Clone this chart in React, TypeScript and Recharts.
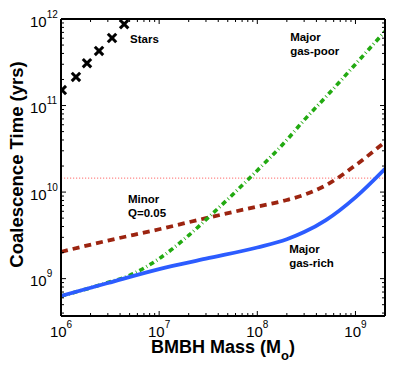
import React from "react";
import {
  ComposedChart,
  Line,
  Scatter,
  XAxis,
  YAxis,
  ReferenceLine,
  ReferenceDot,
} from "recharts";

const FONT = "'Liberation Sans', Arial, Helvetica, sans-serif";

// ---- data (mass in solar masses, time in years) ----
const gasRichMass = [1e6, 3e6, 1e7, 3e7, 1e8, 2e8, 3e8, 5e8, 1e9, 2e9];
const gasRichTime = [6.3e8, 8.9e8, 1.29e9, 1.7e9, 2.29e9, 2.85e9, 3.45e9, 4.75e9, 8.7e9, 1.86e10];

const gasPoorMass = [1e6, 3e6, 5e6, 1e7, 2e7, 3e7, 1e8, 2e8, 3e8, 5e8, 1e9, 2e9];
const gasPoorTime = [6.3e8, 9.0e8, 1.09e9, 1.7e9, 3.16e9, 4.8e9, 1.78e10, 4.0e10, 6.8e10, 1.26e11, 3.0e11, 7.2e11];

const minorMass = [1e6, 3e6, 1e7, 3e7, 1e8, 2e8, 3e8, 5e8, 1e9, 2e9];
const minorTime = [2.04e9, 2.75e9, 3.72e9, 5.0e9, 6.8e9, 8.1e9, 9.3e9, 1.2e10, 2.04e10, 3.8e10];

const starsMass = [1.02e6, 1.42e6, 1.84e6, 2.44e6, 3.31e6, 4.4e6];
const starsTime = [1.51e11, 2.14e11, 3.09e11, 4.27e11, 6.03e11, 8.71e11];

const hubbleTime = 1.45e10;

const xDomain = [1e6, 2e9];
const yDomain = [3.7e8, 1e12];
const xMajorTicks = [1e6, 1e7, 1e8, 1e9];
const yMajorTicks = [1e9, 1e10, 1e11, 1e12];

const annotationLines = [["Stars"], ["Major", "gas-poor"], ["Minor", "Q=0.05"], ["Major", "gas-rich"]];
const annotationMass = [5.05e6, 2.16e8, 4.82e6, 2.11e8];
const annotationTime = [5.28e11, 5.57e11, 7.46e9, 1.97e9];

// ---- helpers ----
const zip = (ms: number[], ts: number[]) => ms.map((m, i) => ({ m, t: ts[i] }));
const gasRich = zip(gasRichMass, gasRichTime);
const gasPoor = zip(gasPoorMass, gasPoorTime);
const minor = zip(minorMass, minorTime);
const stars = zip(starsMass, starsTime);

const withMinors = (majors: number[], lo: number, hi: number) => {
  const out: number[] = [];
  majors.concat([majors[0] / 10]).forEach((d) => {
    [1, 2, 3, 4, 5, 6, 7, 8, 9].forEach((k) => {
      const v = d * k;
      if (v >= lo * 0.999 && v <= hi * 1.001) out.push(v);
    });
  });
  return Array.from(new Set(out)).sort((a, b) => a - b);
};
const xTicks = withMinors(xMajorTicks, xDomain[0], xDomain[1]);
const yTicks = withMinors(yMajorTicks, yDomain[0], yDomain[1]);

const isMajor = (v: number) => Math.abs(Math.log10(v) - Math.round(Math.log10(v))) < 1e-6;
const expOf = (v: number) => Math.round(Math.log10(v));

const MAJ = 5;
const MIN = 3;

const BottomTick = (p: any) => {
  const { x, y, payload } = p;
  const v = payload.value;
  const maj = isMajor(v);
  return (
    <g>
      <line x1={x} x2={x} y1={y} y2={y - (maj ? MAJ : MIN)} stroke="#000" strokeWidth={1} />
      {maj && (
        <text x={x} y={y + 21} textAnchor="middle" fontSize={15} fontFamily={FONT} fill="#000">
          10
          <tspan dy={-9} fontSize={10}>
            {expOf(v)}
          </tspan>
        </text>
      )}
    </g>
  );
};

const TopTick = (p: any) => {
  const { x, y, payload } = p;
  const maj = isMajor(payload.value);
  return <line x1={x} x2={x} y1={y} y2={y + (maj ? MAJ : MIN)} stroke="#000" strokeWidth={1} />;
};

const LeftTick = (p: any) => {
  const { x, y, payload } = p;
  const v = payload.value;
  const maj = isMajor(v);
  return (
    <g>
      <line x1={x} x2={x + (maj ? MAJ : MIN)} y1={y} y2={y} stroke="#000" strokeWidth={1} />
      {maj && (
        <text x={x - 31} y={y + 7.5} textAnchor="start" fontSize={15} fontFamily={FONT} fill="#000">
          10
          <tspan dy={-9} fontSize={10}>
            {expOf(v)}
          </tspan>
        </text>
      )}
    </g>
  );
};

const RightTick = (p: any) => {
  const { x, y, payload } = p;
  const maj = isMajor(payload.value);
  return <line x1={x} x2={x - (maj ? MAJ : MIN)} y1={y} y2={y} stroke="#000" strokeWidth={1} />;
};

const StarMarker = (p: any) => {
  const { cx, cy } = p;
  if (cx == null || cy == null) return null;
  const s = 4.2;
  return (
    <g stroke="#000" strokeWidth={3}>
      <line x1={cx - s} y1={cy - s} x2={cx + s} y2={cy + s} />
      <line x1={cx - s} y1={cy + s} x2={cx + s} y2={cy - s} />
    </g>
  );
};

const annotationContent = (lines: string[]) => (p: any) => {
  const vb = p.viewBox || {};
  const x = vb.x;
  const y = vb.y;
  return (
    <text x={x} y={y} fontSize={11.5} fontWeight="bold" fontFamily={FONT} fill="#000">
      {lines.map((l, i) => (
        <tspan key={i} x={x} dy={i === 0 ? 0 : 14}>
          {l}
        </tspan>
      ))}
    </text>
  );
};

const yLabelContent = (p: any) => {
  const vb = p.viewBox;
  const x = vb.x + 12;
  const y = vb.y + vb.height / 2 - 3;
  return (
    <text
      x={x}
      y={y}
      transform={`rotate(-90, ${x}, ${y})`}
      textAnchor="middle"
      fontSize={18.5}
      fontWeight="bold"
      fontFamily={FONT}
      fill="#000"
    >
      Coalescence Time (yrs)
    </text>
  );
};

const xLabelContent = (p: any) => {
  const vb = p.viewBox;
  const x = vb.x + vb.width / 2;
  const y = vb.y + 37;
  return (
    <text x={x} y={y} textAnchor="middle" fontSize={18} fontWeight="bold" fontFamily={FONT} fill="#000">
      BMBH Mass (M
      <tspan dy={7} fontSize={13}>
        o
      </tspan>
      <tspan dy={-7}>)</tspan>
    </text>
  );
};

export default function App() {
  const axisLine = { stroke: "#000", strokeWidth: 2 };
  return (
    <div style={{ position: "absolute", left: 0, top: 0 }}>
      <ComposedChart width={415} height={365} margin={{ top: 18, right: 29, bottom: 29, left: 11 }}>
        <XAxis
          xAxisId={0}
          dataKey="m"
          type="number"
          scale="log"
          domain={xDomain}
          allowDataOverflow
          ticks={xTicks}
          interval={0}
          tickSize={0}
          tickMargin={0}
          tickLine={false}
          axisLine={axisLine}
          tick={<BottomTick />}
          height={20}
          label={{ content: xLabelContent }}
        />
        <XAxis
          xAxisId="top"
          orientation="top"
          dataKey="m"
          type="number"
          scale="log"
          domain={xDomain}
          allowDataOverflow
          ticks={xTicks}
          interval={0}
          tickSize={0}
          tickMargin={0}
          tickLine={false}
          axisLine={axisLine}
          tick={<TopTick />}
          height={1}
        />
        <YAxis
          yAxisId={0}
          dataKey="t"
          type="number"
          scale="log"
          domain={yDomain}
          allowDataOverflow
          ticks={yTicks}
          interval={0}
          tickSize={0}
          tickMargin={0}
          tickLine={false}
          axisLine={axisLine}
          tick={<LeftTick />}
          width={50}
          label={{ content: yLabelContent }}
        />
        <YAxis
          yAxisId="right"
          orientation="right"
          dataKey="t"
          type="number"
          scale="log"
          domain={yDomain}
          allowDataOverflow
          ticks={yTicks}
          interval={0}
          tickSize={0}
          tickMargin={0}
          tickLine={false}
          axisLine={axisLine}
          tick={<RightTick />}
          width={1}
        />
        <ReferenceLine
          y={hubbleTime}
          stroke="#ff6a6a"
          strokeWidth={1}
          strokeDasharray="1.2 1.8"
        />
        <Line
          data={minor}
          dataKey="t"
          type="monotone"
          stroke="#9c2410"
          strokeWidth={3.8}
          strokeDasharray="7 5"
          dot={false}
          isAnimationActive={false}
        />
        <Line
          data={gasPoor}
          dataKey="t"
          type="monotone"
          stroke="#22aa11"
          strokeWidth={3.6}
          strokeDasharray="5 3 0.8 3"
          dot={false}
          isAnimationActive={false}
        />
        <Line
          data={gasRich}
          dataKey="t"
          type="monotone"
          stroke="#2c5cff"
          strokeWidth={3.8}
          dot={false}
          isAnimationActive={false}
        />
        <Scatter data={stars} dataKey="t" shape={<StarMarker />} isAnimationActive={false} />
        {annotationLines.map((lines, i) => (
          <ReferenceDot
            key={i}
            x={annotationMass[i]}
            y={annotationTime[i]}
            r={0}
            fill="none"
            stroke="none"
            label={{ content: annotationContent(lines) }}
          />
        ))}
      </ComposedChart>
    </div>
  );
}
